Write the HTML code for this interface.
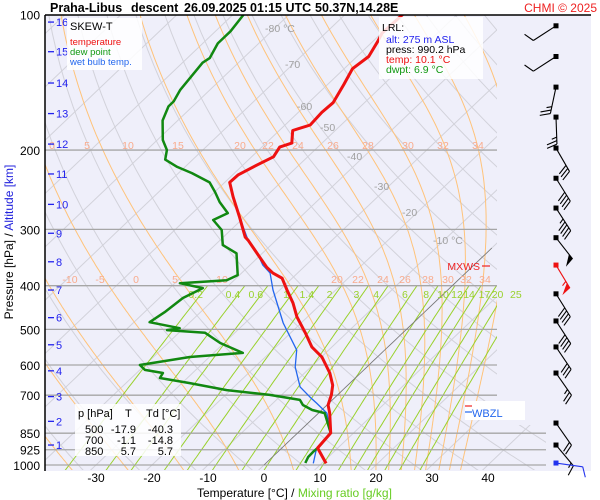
<!DOCTYPE html>
<html><head><meta charset="utf-8"><style>
html,body{margin:0;padding:0;background:#fff;}
svg{display:block;font-family:"Liberation Sans",sans-serif;}
</style></head><body>
<svg id="chart" width="600" height="500" viewBox="0 0 600 500" xmlns="http://www.w3.org/2000/svg">
<defs><clipPath id="clip"><polygon points="45,15 497,15 497,425 546,425 546,470 45,470"/></clipPath>
<clipPath id="clipAll"><rect x="45" y="15" width="546" height="455"/></clipPath></defs>
<rect x="45" y="15" width="546" height="456" fill="#efeffa"/>
<g id="grid" clip-path="url(#clip)"></g>
<g id="isobars"></g>
<g id="labels"></g>
<g id="series" clip-path="url(#clipAll)"></g>
<line x1="45" y1="15" x2="591" y2="15" stroke="#000" stroke-width="1.5"/>
<line x1="45" y1="15" x2="45" y2="471" stroke="#000" stroke-width="1.5"/>
<text y="12" font-size="12.5" font-weight="bold" fill="#000"><tspan x="50">Praha-Libus</tspan><tspan x="131">descent</tspan><tspan x="184">26.09.2025 01:15 UTC</tspan><tspan x="315">50.37N,14.28E</tspan></text>
<text x="597" y="12" font-size="12" fill="#ee2222" text-anchor="end">CHMI © 2025</text>
<g id="yaxis"></g>
<g id="xaxis"></g>
<text transform="translate(13,242) rotate(-90)" font-size="12" text-anchor="middle"><tspan fill="#000">Pressure [hPa]</tspan><tspan fill="#000"> / </tspan><tspan fill="#2222dd">Altitude [km]</tspan></text>
<text x="197" y="497" font-size="12"><tspan fill="#000">Temperature [°C]</tspan><tspan fill="#000"> / </tspan><tspan fill="#66cc22">Mixing ratio [g/kg]</tspan></text>
<g>
<rect x="67" y="18" width="75" height="52" fill="#fff" opacity="0.85"/>
<text x="70" y="30" font-size="11" fill="#000">SKEW-T</text>
<text x="70" y="45" font-size="9.5" fill="#ee1111">temperature</text>
<text x="70" y="55" font-size="9.5" fill="#119911">dew point</text>
<text x="70" y="65" font-size="9.5" fill="#2266ee">wet bulb temp.</text>
</g>
<g>
<rect x="379" y="17" width="104" height="62" fill="#fff" opacity="0.85"/>
<text x="382" y="31" font-size="10.5" fill="#000">LRL:</text>
<text x="386" y="43" font-size="10.5" fill="#2222ee">alt: 275 m ASL</text>
<text x="386" y="53" font-size="10.5" fill="#000">press: 990.2 hPa</text>
<text x="386" y="63" font-size="10.5" fill="#ee1111">temp: 10.1 °C</text>
<text x="386" y="73" font-size="10.5" fill="#119911">dwpt: 6.9 °C</text>
</g>
<g font-size="11" fill="#000">
<rect x="75" y="404" width="106" height="52" fill="#fff" opacity="0.85"/>
<text x="78" y="417">p [hPa]</text><text x="125" y="417">T</text><text x="146" y="417">Td [°C]</text>
<text x="85" y="433">500</text><text x="136" y="433" text-anchor="end">-17.9</text><text x="173" y="433" text-anchor="end">-40.3</text>
<text x="85" y="444">700</text><text x="136" y="444" text-anchor="end">-1.1</text><text x="173" y="444" text-anchor="end">-14.8</text>
<text x="85" y="455">850</text><text x="136" y="455" text-anchor="end">5.7</text><text x="173" y="455" text-anchor="end">5.7</text>
</g>
<g>
<line x1="482" y1="266" x2="490" y2="266" stroke="#ee2222" stroke-width="1.2"/>
<text x="480" y="270" font-size="10.5" fill="#ee2222" text-anchor="end">MXWS</text>
<rect x="465" y="401" width="60" height="19" fill="#fff"/>
<line x1="465" y1="406" x2="472" y2="406" stroke="#ee2222" stroke-width="1.2"/>
<line x1="465" y1="412" x2="472" y2="412" stroke="#2266ee" stroke-width="1.2"/>
<text x="472" y="417" font-size="11" fill="#2266ee">WBZL</text>
</g>
<g id="barbs"></g>
<script>
// ---- data ----
const tP = [992,917,849,767,736,699,665,625,576,547,509,469,437,409,385,375,364,342,317,312,282,254,236,227,216,207,197,193,181,176,165,157,143,132,124,115,110,100];
const tT = [10.8,6.4,5.9,2.0,0.2,-1.1,-2.7,-5.5,-9.9,-13.6,-17.4,-21.9,-25.2,-28.7,-31.8,-34.4,-36.6,-40.4,-45.0,-46.1,-50.8,-55.8,-59.1,-59.0,-57.5,-56.1,-56.8,-55.4,-57.6,-55.5,-55.8,-55.6,-57.1,-58.5,-57.9,-59.1,-59.9,-59.7];
const dP = [990,960,936,917,849,767,755,736,717,699,682,658,641,625,615,600,576,564,536,509,502,497,482,458,426,405,395,389,379,339,325,301,286,276,261,248,236,225,218,210,200,190,172,160,156,147,128,125,116,109,100];
const dT = [7.0,6.4,6.3,6.4,5.9,1.1,-1.7,-4.3,-5.8,-12.1,-20.7,-28.6,-34.9,-35.3,-39.1,-40.9,-33.5,-24.8,-30.7,-35.3,-42.6,-40.7,-47.2,-46.4,-45.8,-44.1,-49.1,-41.3,-40.3,-44.6,-48.6,-51.6,-55.0,-53.7,-57.2,-59.9,-62.7,-67.6,-71.4,-74.9,-76.4,-79.0,-82.7,-84.3,-84.3,-85.3,-86.4,-86.0,-87.3,-87.3,-88.1];
const wP = [992,926,917,849,767,729,707,671,606,556,484,409,375,360,342,317,282,254,236,227,216,207,197,193,181,176,165,157,143,132,124,115,110,100];
const wT = [8.5,6.5,6.4,5.9,1.5,-2.2,-4.5,-8.2,-12.8,-15.7,-23.2,-31.2,-34.9,-37.7,-40.4,-45.0,-50.8,-55.8,-59.1,-59.0,-57.5,-56.1,-56.8,-55.4,-57.6,-55.5,-55.8,-55.6,-57.1,-58.5,-57.9,-59.1,-59.9,-59.7];
const barbP = [106,124,145,169,198,231,269,313,360,417,479,547,625,807,903,990];
const barbDir = [237,237,192,178,150,148,147,142,149,148,147,146,145,145,140,98];
const barbSpd = [10,10,25,25,30,40,45,50,55,40,40,30,25,20,15,10];
const isobarLevels = [200,300,400,500,600,700,850,925,1000];
const pLabels = ["100","200","300","400","500","600","700","850","925","1000"];
const pLabelVals = [100,200,300,400,500,600,700,850,925,1000];
const altKm = [1,2,3,4,5,6,7,8,9,10,11,12,13,14,15,16];
const altP = [903,800,705,618,541,471,409,354,306,264,226,194,166,142,121,104];
const xTicks = [-30,-20,-10,0,10,20,30,40];
const mixR = [0.2,0.4,0.6,1,1.4,2,3,4,6,8,10,12,14,17,20,25];
const mixLabels = ["0.2","0.4","0.6","1","1.4","2","3","4","6","8","10","12","14","17","20","25"];
const moistStart = [-35,-25,-15,-5,5,15.5,20,22.3,24.6,27,29,31.4,33.3,35.3];
const isoLabText = ["-80 °C","-70","-60","-50","-40","-30","-20","-10 °C"];
const isoLabX = [265,285,297,320,347,374,402,433];
const isoLabY = [32,68,110,131,160,190,216,244];
const maLab200 = ["0","5","10","15","20","22","24","26","28","30","32","34"];
const maLab200X = [52,87,128,178,240,268,298,333,368,408,443,478];
const maLab400 = ["-10","-5","0","5","10","20","22","24","26","28","30","32","34"];
const maLab400X = [70,100,136,175,222,337,358,383,405,428,448,466,485];

// ---- axes ----
const Y = p => 465 - 450.6*Math.log10(1000/p);
const X = (T,p) => 264 + 5.6*T + 1.05*(465 - Y(p));
const NS='http://www.w3.org/2000/svg';
function mk(tag, attrs, parent){const e=document.createElementNS(NS,tag);for(const k in attrs)e.setAttribute(k,attrs[k]);parent.appendChild(e);return e;}
function pathD(pts){return pts.map((q,i)=>(i?'L':'M')+q[0].toFixed(1)+','+q[1].toFixed(1)).join('');}
const grid=document.getElementById('grid'), iso=document.getElementById('isobars'), lab=document.getElementById('labels'), ser=document.getElementById('series');

for(let T=-140;T<=40;T+=10){
  const e=mk('path',{d:pathD([[X(T,1050),Y(1050)],[X(T,95),Y(95)]]),stroke:'#d2d2da','stroke-width':1,fill:'none'},grid);
  
  
}
for(let th=230;th<=480;th+=10){
  const pts=[];for(let p=1050;p>=95;p-=10){const T=th*Math.pow(p/1000,0.2857)-273.15;pts.push([X(T,p),Y(p)]);}
  const e=mk('path',{d:pathD(pts),stroke:'#d2d2da','stroke-width':1,fill:'none'},grid);
  
  
}
function dTdp(T,p){const tc=T-273.15;const es=6.112*Math.exp(17.67*tc/(tc+243.5));const rs=0.622*es/(p-es);
  return (287*T+2.5e6*rs)/(p*(1004+2.5e6*2.5e6*rs*0.622/(287*T*T)));}
moistStart.forEach(t0=>{
  let T=t0+273.15;const pts=[];
  let Tb=T;for(let p=1000;p<1040;p+=5){Tb+=dTdp(Tb,p)*5;}
  pts.push([X(Tb-273.15,1040),Y(1040)]);
  for(let p=1000;p>=95;p-=5){pts.push([X(T-273.15,p),Y(p)]);T-=dTdp(T,p)*5;}
  const e=mk('path',{d:pathD(pts),stroke:'#ffc37a','stroke-width':1,fill:'none'},grid);
  
  
});
function tdFromW(w,p){const e=w*p/(622+w);const l=Math.log(e/6.112);return 243.5*l/(17.67-l);}
mixR.forEach((w,i)=>{
  const pts=[];for(let p=1040;p>=400;p-=10)pts.push([X(tdFromW(w,p),p),Y(p)]);
  const e=mk('path',{d:pathD(pts),stroke:'#99d12c','stroke-width':1,fill:'none'},grid);
  
  
  const t=mk('text',{x:X(tdFromW(w,400),400)-12,y:298,'font-size':10.5,fill:'#99d12c','text-anchor':'middle'},lab);
  t.textContent=mixLabels[i];
  
  
});
isobarLevels.forEach(p=>{
  const x2=p>=850?546:497;
  const e=mk('line',{x1:45,y1:Y(p),x2:x2,y2:Y(p),stroke:'#a6a6a6','stroke-width':1.3},iso);
  
  
});
{const pts=[];for(let p=1000;p>=100;p-=10){const x=X(0,p);if(x<=497)pts.push([x,Y(p)]);}
 const e=mk('path',{d:pathD(pts),stroke:'#777','stroke-width':0.8,fill:'none'},iso);
 
 }
isoLabText.forEach((s,i)=>{
  const t=mk('text',{x:isoLabX[i],y:isoLabY[i],'font-size':10.5,fill:'#a0a0a0'},lab);
  t.textContent=s;
  
  
});
maLab200.forEach((s,i)=>{const t=mk('text',{x:maLab200X[i],y:149,'font-size':10.5,fill:'#f9ab8c','text-anchor':'middle'},lab);t.textContent=s;
  
  });
maLab400.forEach((s,i)=>{const t=mk('text',{x:maLab400X[i],y:283,'font-size':10.5,fill:'#f9ab8c','text-anchor':'middle'},lab);t.textContent=s;
  
  });

const ya=document.getElementById('yaxis');
pLabelVals.forEach((p,i)=>{const t=mk('text',{x:40,y:Y(p)+5,'font-size':12,fill:'#000','text-anchor':'end'},ya);t.textContent=pLabels[i];
  
  });
altKm.forEach((k,i)=>{const y=Y(altP[i]);
  const l=mk('line',{x1:48,y1:y,x2:54,y2:y,stroke:'#2222ee','stroke-width':1.3},ya);
  
  
  const t=mk('text',{x:56,y:y+4,'font-size':11,fill:'#2222ee'},ya);t.textContent=k;
  
  });
const xa=document.getElementById('xaxis');
xTicks.forEach(T=>{const t=mk('text',{x:X(T,1000),y:482,'font-size':12,fill:'#000','text-anchor':'middle'},xa);t.textContent=T;
  
  });

function series(P,T,color,w,name){
  const e=mk('path',{d:pathD(P.map((p,i)=>[X(T[i],p),Y(p)])),stroke:color,'stroke-width':w,fill:'none','stroke-linejoin':'round'},ser);
  
  
}
series(wP,wT,'#2266ee',1.3,'wet-bulb-line');
series(dP,dT,'#118811',2.5,'dew-point-line');
series(tP,tT,'#ee1111',3,'temperature-line');

const bg=document.getElementById('barbs');
barbP.forEach((p,i)=>{
  const x0=556,y0=Y(p);const a=barbDir[i]*Math.PI/180;
  const col=i===8?'#ee1111':(i===barbP.length-1?'#2233ee':'#000');
  const ux=Math.sin(a),uy=-Math.cos(a),L=27;
  const tx=x0+ux*L,ty=y0+uy*L;const nx=-uy,ny=ux;
  const g=mk('g',{},bg);
  
  
  mk('line',{x1:x0,y1:y0,x2:tx,y2:ty,stroke:col,'stroke-width':1.1},g);
  mk('rect',{x:x0-2.5,y:y0-2.5,width:5,height:5,fill:col},g);
  let s=barbSpd[i],d=0;
  while(s>=50){const bx=tx-ux*d,by=ty-uy*d;
    mk('polygon',{points:`${bx},${by} ${bx+nx*10+ux*2},${by+ny*10+uy*2} ${bx-ux*6},${by-uy*6}`,fill:col},g);s-=50;d+=8;}
  while(s>=10){const bx=tx-ux*d,by=ty-uy*d;mk('line',{x1:bx,y1:by,x2:bx+nx*10+ux*4,y2:by+ny*10+uy*4,stroke:col,'stroke-width':1.1},g);s-=10;d+=3.5;}
  if(s>=5){const bx=tx-ux*(d||4),by=ty-uy*(d||4);mk('line',{x1:bx,y1:by,x2:bx+nx*5+ux*2,y2:by+ny*5+uy*2,stroke:col,'stroke-width':1.1},g);}
});
</script>
</svg>
</body></html>
